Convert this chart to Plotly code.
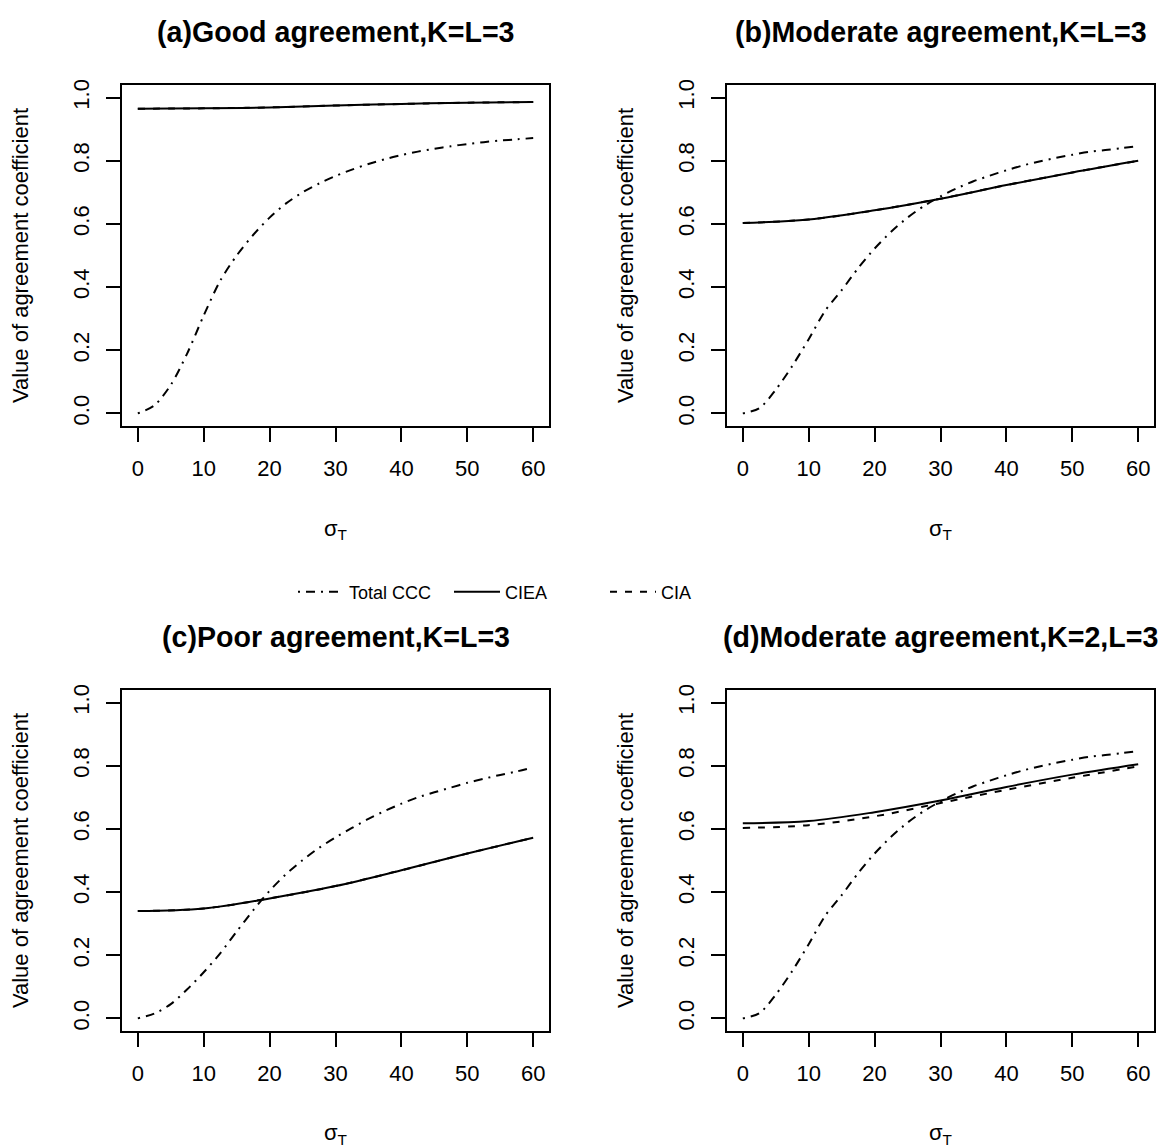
import plotly.graph_objects as go

# ---------------- data ----------------
sigma_t = [0, 2.5, 5, 7.5, 10, 12.5, 15, 17.5, 20, 22.5, 25, 27.5, 30,
           32.5, 35, 37.5, 40, 42.5, 45, 47.5, 50, 52.5, 55, 57.5, 60]
sigma_coarse = [0, 10, 20, 30, 40, 50, 60]

# (a) Good agreement, K=L=3
a_total = [0.00, 0.025, 0.09, 0.19, 0.31, 0.42, 0.50, 0.565, 0.62, 0.665, 0.70, 0.728, 0.752,
           0.772, 0.790, 0.805, 0.818, 0.829, 0.838, 0.846, 0.853, 0.859, 0.864, 0.868, 0.872]
a_ciea = [0.965, 0.966, 0.969, 0.975, 0.980, 0.984, 0.986]
a_cia = [0.965, 0.966, 0.969, 0.975, 0.980, 0.984, 0.986]

# (b) Moderate agreement, K=L=3
b_total = [0.00, 0.016, 0.075, 0.15, 0.235, 0.325, 0.39, 0.46, 0.522, 0.575, 0.62, 0.657, 0.687,
           0.713, 0.735, 0.753, 0.770, 0.785, 0.798, 0.809, 0.819, 0.828, 0.834, 0.840, 0.846]
b_ciea = [0.603, 0.614, 0.643, 0.680, 0.723, 0.763, 0.800]
b_cia = [0.603, 0.614, 0.643, 0.680, 0.723, 0.763, 0.800]

# (c) Poor agreement, K=L=3
c_total = [0.00, 0.015, 0.045, 0.092, 0.146, 0.206, 0.275, 0.342, 0.404, 0.457, 0.501, 0.540, 0.573,
           0.603, 0.632, 0.657, 0.680, 0.700, 0.716, 0.731, 0.746, 0.759, 0.771, 0.782, 0.795]
c_ciea = [0.340, 0.348, 0.380, 0.419, 0.469, 0.522, 0.572]
c_cia = [0.340, 0.348, 0.380, 0.419, 0.469, 0.522, 0.572]

# (d) Moderate agreement, K=2, L=3
d_total = [0.00, 0.016, 0.075, 0.15, 0.235, 0.325, 0.39, 0.46, 0.522, 0.575, 0.62, 0.657, 0.687,
           0.713, 0.735, 0.753, 0.770, 0.785, 0.798, 0.809, 0.819, 0.828, 0.834, 0.840, 0.846]
d_ciea = [0.618, 0.625, 0.653, 0.690, 0.733, 0.772, 0.805]
d_cia = [0.603, 0.612, 0.640, 0.682, 0.724, 0.762, 0.798]

titles = ["(a)Good agreement,K=L=3", "(b)Moderate agreement,K=L=3",
          "(c)Poor agreement,K=L=3", "(d)Moderate agreement,K=2,L=3"]
series_names = ["Total CCC", "CIEA", "CIA"]
x_ticks = [0, 10, 20, 30, 40, 50, 60]
y_ticks = [0.0, 0.2, 0.4, 0.6, 0.8, 1.0]
y_ticklabels = ["0.0", "0.2", "0.4", "0.6", "0.8", "1.0"]

panels = [(a_total, a_ciea, a_cia), (b_total, b_ciea, b_cia),
          (c_total, c_ciea, c_cia), (d_total, d_ciea, d_cia)]

# ---------------- figure ----------------
W, H = 1165, 1148
FONT = "Liberation Sans, Arial, Helvetica, sans-serif"
DASHDOT = "2px,6px,9px,6px"
DASHED = "7px,8px"

fig = go.Figure()

for i, (tot, ciea, cia) in enumerate(panels):
    sfx = "" if i == 0 else str(i + 1)
    show = i == 0
    fig.add_trace(go.Scatter(x=sigma_t, y=tot, mode="lines", name=series_names[0],
                             line=dict(color="black", width=2, dash=DASHDOT, shape="spline", smoothing=0.8),
                             xaxis="x" + sfx, yaxis="y" + sfx, showlegend=show, legendrank=1))
    fig.add_trace(go.Scatter(x=sigma_coarse, y=cia, mode="lines", name=series_names[2],
                             line=dict(color="black", width=2, dash=DASHED, shape="spline", smoothing=1.0),
                             xaxis="x" + sfx, yaxis="y" + sfx, showlegend=show, legendrank=3))
    fig.add_trace(go.Scatter(x=sigma_coarse, y=ciea, mode="lines", name=series_names[1],
                             line=dict(color="black", width=2, dash="solid", shape="spline", smoothing=1.0),
                             xaxis="x" + sfx, yaxis="y" + sfx, showlegend=show, legendrank=2))

x_domains = [[122 / W, 549 / W], [727 / W, 1154 / W]]
y_domains = [[1 - 426 / H, 1 - 85 / H], [1 - 1031 / H, 1 - 690 / H]]

layout = dict(
    width=W, height=H,
    margin=dict(l=0, r=0, t=0, b=0),
    paper_bgcolor="white", plot_bgcolor="white",
    font=dict(family=FONT, size=22, color="black"),
    showlegend=True,
    legend=dict(orientation="h", x=293 / W, xanchor="left", y=1 - 592 / H, yanchor="middle",
                font=dict(size=18, family=FONT), bgcolor="rgba(0,0,0,0)",
                itemwidth=46,
                entrywidth=95, entrywidthmode="pixels", traceorder="normal"),
)

annotations = []
for i in range(4):
    row, col = divmod(i, 2)
    sfx = "" if i == 0 else str(i + 1)
    xd = x_domains[col]
    yd = y_domains[row]
    layout["xaxis" + sfx] = dict(
        domain=xd, anchor="y" + sfx, range=[-2.4, 62.4],
        tickmode="array", tickvals=x_ticks, ticktext=[str(v) for v in x_ticks],
        ticks="outside", ticklen=14, tickwidth=2, tickcolor="black",
        showline=True, linewidth=2, linecolor="black", mirror=True,
        showgrid=False, zeroline=False, automargin=False,
        tickfont=dict(size=22), ticklabelstandoff=8,
        title=dict(text="σ<sub>T</sub>", font=dict(size=22), standoff=40),
    )
    layout["yaxis" + sfx] = dict(
        domain=yd, anchor="x" + sfx, range=[-0.04, 1.04],
        tickmode="array", tickvals=y_ticks, ticktext=y_ticklabels,
        ticks="outside", ticklen=14, tickwidth=2, tickcolor="black", tickangle=-90,
        showline=True, linewidth=2, linecolor="black", mirror=True,
        showgrid=False, zeroline=False, automargin=False,
        tickfont=dict(size=22), ticklabelstandoff=8,
        title=dict(text="Value of agreement coefficient", font=dict(size=22), standoff=35),
    )
    title_y = 1 - 32 / H if row == 0 else 1 - 637 / H
    annotations.append(dict(
        text="<b>" + titles[i] + "</b>", xref="paper", yref="paper",
        x=(xd[0] + xd[1]) / 2, y=title_y, xanchor="center", yanchor="middle",
        showarrow=False, font=dict(size=28.6, family=FONT, color="black")))

layout["annotations"] = annotations
fig.update_layout(**layout)

fig.write_html("out.html", config={"displayModeBar": False},
               post_script="document.body.style.margin='0px';document.body.style.padding='0px';")
